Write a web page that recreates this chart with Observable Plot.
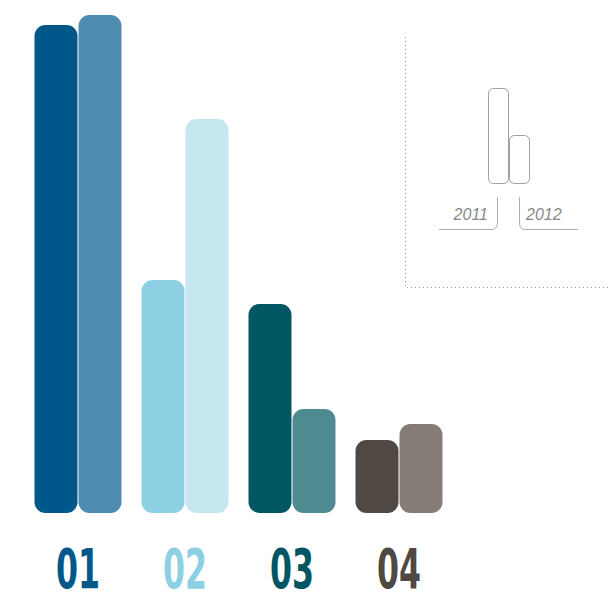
<!DOCTYPE html>
<html>
<head>
<meta charset="utf-8">
<script src="https://cdn.jsdelivr.net/npm/d3@7"></script>
<script src="https://cdn.jsdelivr.net/npm/@observablehq/plot@0.6"></script>
<style>
  html, body { margin: 0; padding: 0; background: #fff; }
  #chart { position: relative; width: 611px; height: 593px; }
</style>
</head>
<body>
<div id="chart"></div>
<script>
const groups = ["01", "02", "03", "04"];
const years = ["2011", "2012"];
const values2011 = [97.6, 46.6, 41.8, 14.6];
const values2012 = [99.6, 78.8, 20.8, 17.8];
const colors2011 = ["#00578a", "#8dd0e3", "#005662", "#504843"];
const colors2012 = ["#4d8bb0", "#c6e7f0", "#4e8b91", "#857b77"];
const labelColors = ["#00578a", "#8dd0e3", "#005662", "#504843"];

const data = [];
groups.forEach((g, i) => {
  data.push({group: g, year: years[0], value: values2011[i], color: colors2011[i]});
  data.push({group: g, year: years[1], value: values2012[i], color: colors2012[i]});
});
const labels = groups.map((g, i) => ({group: g, color: labelColors[i]}));

const plot = Plot.plot({
  width: 611,
  height: 593,
  marginTop: 15,
  marginBottom: 80,
  marginLeft: 33,
  marginRight: 168,
  fx: {domain: groups, axis: null, paddingInner: 0.17, paddingOuter: 0},
  x: {domain: years, axis: null, padding: 0},
  y: {domain: [0, 99.6], axis: null},
  marks: [
    Plot.barY(data, {fx: "group", x: "year", y: "value", fill: "color", rx: 11, insetLeft: 0.5, insetRight: 0.5}),
    Plot.text(labels, {
      fx: "group", text: "group", fill: "color", frameAnchor: "bottom", lineAnchor: "top", dy: 35,
      fontSize: 55, fontWeight: "bold", fontFamily: "'DejaVu Sans Condensed', 'DejaVu Sans', sans-serif",
      className: "grp-label"
    })
  ]
});
document.getElementById("chart").appendChild(plot);

const svg = d3.select(plot);
// condense the group labels to match the narrow typeface of the reference
svg.selectAll(".grp-label text").attr("textLength", 44).attr("lengthAdjust", "spacingAndGlyphs");

// Legend (decorative key)
const lg = svg.append("g").attr("fill", "none");
lg.append("path").attr("d", "M405.5,37V287.5H611").attr("stroke", "#999").attr("stroke-dasharray", "1,3");
lg.append("rect").attr("x", 488.5).attr("y", 88.5).attr("width", 20).attr("height", 95).attr("rx", 5).attr("stroke", "#888").attr("stroke-width", 0.8);
lg.append("rect").attr("x", 509.5).attr("y", 135.5).attr("width", 20).attr("height", 48).attr("rx", 5).attr("stroke", "#888").attr("stroke-width", 0.8);
lg.append("path").attr("d", "M497.5,197V223Q497.5,229.5 491,229.5H439").attr("stroke", "#999").attr("stroke-width", 0.8);
lg.append("path").attr("d", "M519.5,197V223Q519.5,229.5 526,229.5H578").attr("stroke", "#999").attr("stroke-width", 0.8);
lg.append("text").attr("x", 488).attr("y", 220).attr("text-anchor", "end").text(years[0])
  .attr("fill", "#888").attr("font-style", "italic").attr("font-size", 16).attr("font-family", "Liberation Sans, Arial, sans-serif");
lg.append("text").attr("x", 526).attr("y", 220).attr("text-anchor", "start").text(years[1])
  .attr("fill", "#888").attr("font-style", "italic").attr("font-size", 16).attr("font-family", "Liberation Sans, Arial, sans-serif");
</script>
</body>
</html>
